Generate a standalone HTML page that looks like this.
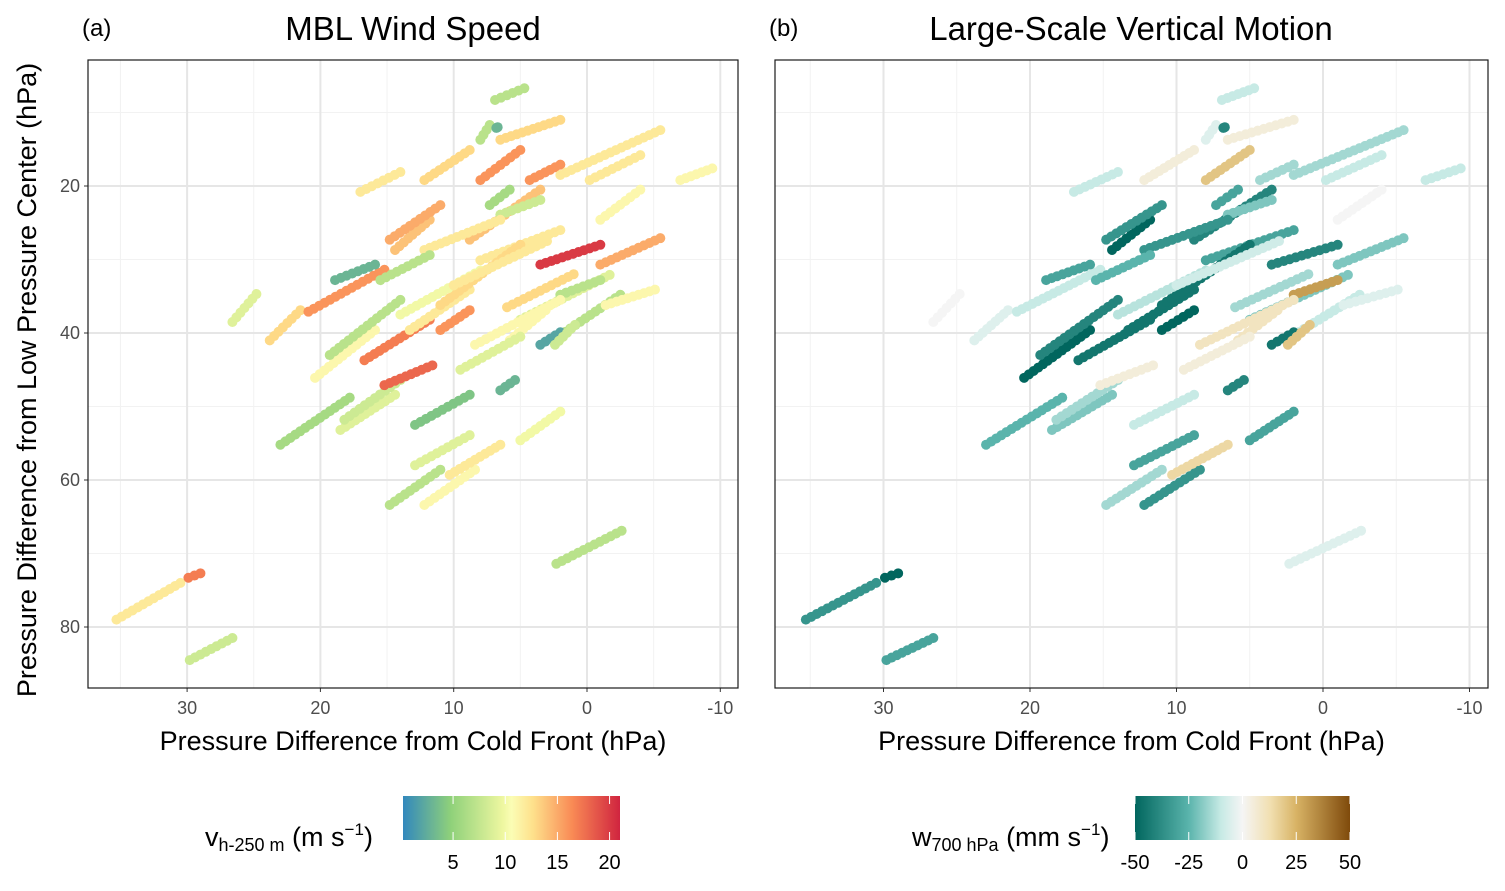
<!DOCTYPE html>
<html><head><meta charset="utf-8"><style>
html,body{margin:0;padding:0;background:#fff}
svg text{font-family:"Liberation Sans",Arial,sans-serif}
</style></head><body>
<svg id="chart" width="1505" height="886" xmlns="http://www.w3.org/2000/svg">
<defs>
<linearGradient id="gradA" x1="0" x2="1" y1="0" y2="0">
<stop offset="0" stop-color="#3288bd"/><stop offset="0.22" stop-color="#8fd17a"/><stop offset="0.46" stop-color="#eef7a0"/><stop offset="0.5" stop-color="#fbfdb5"/><stop offset="0.6" stop-color="#fee08b"/><stop offset="0.78" stop-color="#f98a55"/><stop offset="1" stop-color="#d0243f"/>
</linearGradient>
<linearGradient id="gradB" x1="0" x2="1" y1="0" y2="0">
<stop offset="0" stop-color="#01665e"/><stop offset="0.25" stop-color="#5ab4ac"/><stop offset="0.4" stop-color="#c7eae5"/><stop offset="0.5" stop-color="#f5f5f5"/><stop offset="0.63" stop-color="#f1dfb0"/><stop offset="0.75" stop-color="#d8b365"/><stop offset="1" stop-color="#7f4a0b"/>
</linearGradient>
</defs>
</svg>
<script>
// segments of cyclone tracks (data units, hPa)
const segX0=[35.3,29.9,29.8,26.6,23.8,23.0,20.4,20.9,19.3,18.5,17.0,18.2,16.7,15.2,14.4,14.8,13.3,12.9,12.9,12.2,14.8,12.2,8.0,8.0,6.9,6.8,8.8,8.0,3.5,7.3,4.3,6.5,2.0,-1.0,-0.2,-1.0,-7.0,5.0,2.0,6.5,3.5,5.0,10.3,2.0,-1.4,8.4,11.0,6.5,12.2,15.5,11.0,18.9,5.8,2.4,2.3,14.0,10.0,9.5,6.0];
const segY0=[79.0,73.3,84.5,38.5,41.0,55.2,46.1,37.1,43.0,53.2,20.8,51.8,43.7,47.1,28.7,27.3,39.6,52.5,58.0,63.4,63.4,19.2,13.7,19.2,8.3,12.1,27.3,30.1,30.7,22.6,19.2,13.7,18.5,30.7,19.2,24.6,19.2,38.2,40.3,47.8,41.6,54.6,59.3,34.8,36.2,41.6,36.2,23.9,28.7,32.8,39.6,32.8,41.0,41.6,71.4,37.5,33.5,45.0,36.5];
const segX1=[30.5,29.0,26.6,24.8,21.5,17.8,15.9,15.2,14.0,14.4,14.0,14.0,11.8,11.6,11.8,11.0,8.8,8.8,8.8,8.4,11.0,8.8,7.3,5.0,4.7,6.7,3.5,2.0,-1.0,5.8,2.0,2.0,-5.5,-5.5,-4.0,-4.0,-9.4,-1.7,-2.5,5.4,2.0,2.0,6.5,-1.0,-5.1,2.0,5.0,3.5,6.5,11.8,8.8,15.9,3.1,0.9,-2.6,8.0,3.0,5.0,1.0];
const segY1=[74.0,72.7,81.5,34.7,36.9,48.8,39.6,31.4,35.5,48.4,18.1,46.4,38.2,44.4,24.6,22.6,34.1,48.4,53.9,58.6,58.6,15.1,11.7,15.1,6.7,12.0,20.5,26.0,28.0,20.5,17.1,11.0,12.4,27.1,15.8,20.5,17.6,32.1,34.8,46.4,39.9,50.7,55.2,32.8,34.1,35.5,28.0,21.9,24.6,29.4,36.9,30.7,36.9,38.9,66.9,31.5,27.5,40.5,32.0];
// MBL wind speed (m/s) per segment
const windSpeed=[12,17,8,9,13,6,11,16,7,9,12,8,17,18,14,15,12,4,9,11,7,13,7,16,7,3,14,12,20,6,16,13,12,15,12,11,11,9,7,3,2,10,12,7,11,11,13,8,12,7,16,3,11,8,7,10,12,9,13];
// 700 hPa vertical motion (mm/s) per segment
const vertMotion=[-35,-50,-30,0,-5,-25,-50,-10,-40,-20,-10,-15,-45,5,-50,-35,-45,-10,-30,-35,-15,5,-5,20,-10,-40,-40,-30,-40,-30,-15,5,-15,-20,-10,0,-10,-20,-10,-40,-45,-30,15,30,-5,10,-45,-20,-35,-25,-50,-30,10,20,-5,-12,-8,5,-15];
// ticks
const xTicks=[30,20,10,0,-10];
const yTicks=[20,40,60,80];
const cbTicksA=[5,10,15,20];
const cbTicksB=[-50,-25,0,25,50];

const NS="http://www.w3.org/2000/svg";
const svg=document.getElementById('chart');
function mk(tag,attrs,parent){const e=document.createElementNS(NS,tag);for(const k in attrs)e.setAttribute(k,attrs[k]);(parent||svg).appendChild(e);return e;}
function lerpC(stops,t){t=Math.max(0,Math.min(1,t));for(let i=1;i<stops.length;i++){if(t<=stops[i][0]){const a=stops[i-1],b=stops[i];const f=(t-a[0])/(b[0]-a[0]||1);const c=[0,1,2].map(j=>Math.round(a[1][j]+(b[1][j]-a[1][j])*f));return `rgb(${c})`;}}return `rgb(${stops[stops.length-1][1]})`;}
const stopsA=[[0,[50,136,189]],[0.22,[143,209,122]],[0.46,[238,247,160]],[0.5,[251,253,181]],[0.6,[254,224,139]],[0.78,[249,138,85]],[1,[208,36,63]]];
const stopsB=[[0,[1,102,94]],[0.25,[90,180,172]],[0.4,[199,234,229]],[0.5,[245,245,245]],[0.63,[241,223,176]],[0.75,[216,179,101]],[1,[127,74,11]]];
const colA=v=>lerpC(stopsA,(v-0.2)/20.8);
const colB=v=>lerpC(stopsB,(v+50)/100);

const Y0=60,Y1=688;
const yS=v=>186+(v-20)*7.35;
const panels=[
 {name:'a',x0:88,x1:738,zero:587,k:13.33,vals:windSpeed,col:colA,title:'MBL Wind Speed',tcx:413},
 {name:'b',x0:775,x1:1488,zero:1323,k:14.65,vals:vertMotion,col:colB,title:'Large-Scale Vertical Motion',tcx:1131}
];
panels.forEach((p,pi)=>{
  const xS=v=>p.zero-v*p.k;
  const g=mk('g',{});
  
  
  [35,25,15,5,-5].forEach(v=>{const x=xS(v);if(x>p.x0&&x<p.x1){const l=mk('line',{x1:x,x2:x,y1:Y0,y2:Y1,stroke:'#f2f2f2','stroke-width':1},g);}});
  [10,30,50,70].forEach(v=>{const y=yS(v);const l=mk('line',{x1:p.x0,x2:p.x1,y1:y,y2:y,stroke:'#f2f2f2','stroke-width':1},g);});
  xTicks.forEach(v=>{const x=xS(v);const l=mk('line',{x1:x,x2:x,y1:Y0,y2:Y1,stroke:'#e6e6e6','stroke-width':2},g);
    const tk=mk('line',{x1:x,x2:x,y1:Y1,y2:Y1+4,stroke:'#333'},g);
    const t=mk('text',{x:x,y:Y1+26,'text-anchor':'middle','font-size':18,fill:'#4d4d4d'},g);t.textContent=v;});
  yTicks.forEach(v=>{const y=yS(v);const l=mk('line',{x1:p.x0,x2:p.x1,y1:y,y2:y,stroke:'#e6e6e6','stroke-width':2},g);
    if(pi===0){const tk=mk('line',{x1:p.x0-4,x2:p.x0,y1:y,y2:y,stroke:'#333'},g);
    const t=mk('text',{x:p.x0-8,y:y+6,'text-anchor':'end','font-size':18,fill:'#4d4d4d'},g);t.textContent=v;}});
  for(let i=0;i<segX0.length;i++){
    const ax=xS(segX0[i]),ay=yS(segY0[i]),bx=xS(segX1[i]),by=yS(segY1[i]);
    const len=Math.hypot(bx-ax,by-ay);const n=Math.max(1,Math.round(len/6));
    for(let j=0;j<=n;j++){const f=j/n;
      const c=mk('circle',{cx:ax+(bx-ax)*f,cy:ay+(by-ay)*f,r:5,fill:p.col(p.vals[i])},g);
      
      }
  }
  const fr=mk('rect',{x:p.x0,y:Y0,width:p.x1-p.x0,height:Y1-Y0,fill:'none',stroke:'#1a1a1a','stroke-width':1.2},g);
  
  const tl=mk('text',{x:p.x0-6,y:36,'font-size':24,fill:'#000'},g);tl.textContent='('+p.name+')';
  const tt=mk('text',{x:p.tcx,y:40,'text-anchor':'middle','font-size':33,fill:'#000'},g);tt.textContent=p.title;
  const xt=mk('text',{x:(p.x0+p.x1)/2,y:750,'text-anchor':'middle','font-size':27,fill:'#000'},g);xt.textContent='Pressure Difference from Cold Front (hPa)';
});
const yt=mk('text',{x:0,y:0,'text-anchor':'middle','font-size':27,fill:'#000',transform:'translate(36,380) rotate(-90)'});
yt.textContent='Pressure Difference from Low Pressure Center (hPa)';



function colorbar(x0,x1,grad,ticks,vmin,vmax,name){
  const g=mk('g',{});
  mk('rect',{x:x0,y:796,width:x1-x0,height:44,fill:'url(#'+grad+')'},g);
  ticks.forEach(v=>{const x=x0+(v-vmin)/(vmax-vmin)*(x1-x0);
    mk('line',{x1:x,x2:x,y1:796,y2:804,stroke:'#fff','stroke-width':1},g);
    mk('line',{x1:x,x2:x,y1:832,y2:840,stroke:'#fff','stroke-width':1},g);
    const t=mk('text',{x:x,y:869,'text-anchor':'middle','font-size':20,fill:'#000'},g);t.textContent=v;});
  return g;
}
colorbar(403,620,'gradA',cbTicksA,0.2,21,'colorbar-wind');
colorbar(1135,1350,'gradB',cbTicksB,-50,50,'colorbar-vertical-motion');
</script>
<div style="position:absolute;left:0;top:0;width:1505px;height:886px;pointer-events:none">
<svg width="1505" height="886" style="position:absolute;left:0;top:0">
<text x="205" y="846" font-size="27" font-family="Liberation Sans, sans-serif">v<tspan font-size="18" dy="5">h-250 m</tspan><tspan dy="-5"> (m s</tspan><tspan font-size="17" dy="-11">−1</tspan><tspan dy="11">)</tspan></text>
<text x="912" y="846" font-size="27" font-family="Liberation Sans, sans-serif">w<tspan font-size="18" dy="5">700 hPa</tspan><tspan dy="-5"> (mm s</tspan><tspan font-size="17" dy="-11">−1</tspan><tspan dy="11">)</tspan></text>
</svg></div>
</body></html>
